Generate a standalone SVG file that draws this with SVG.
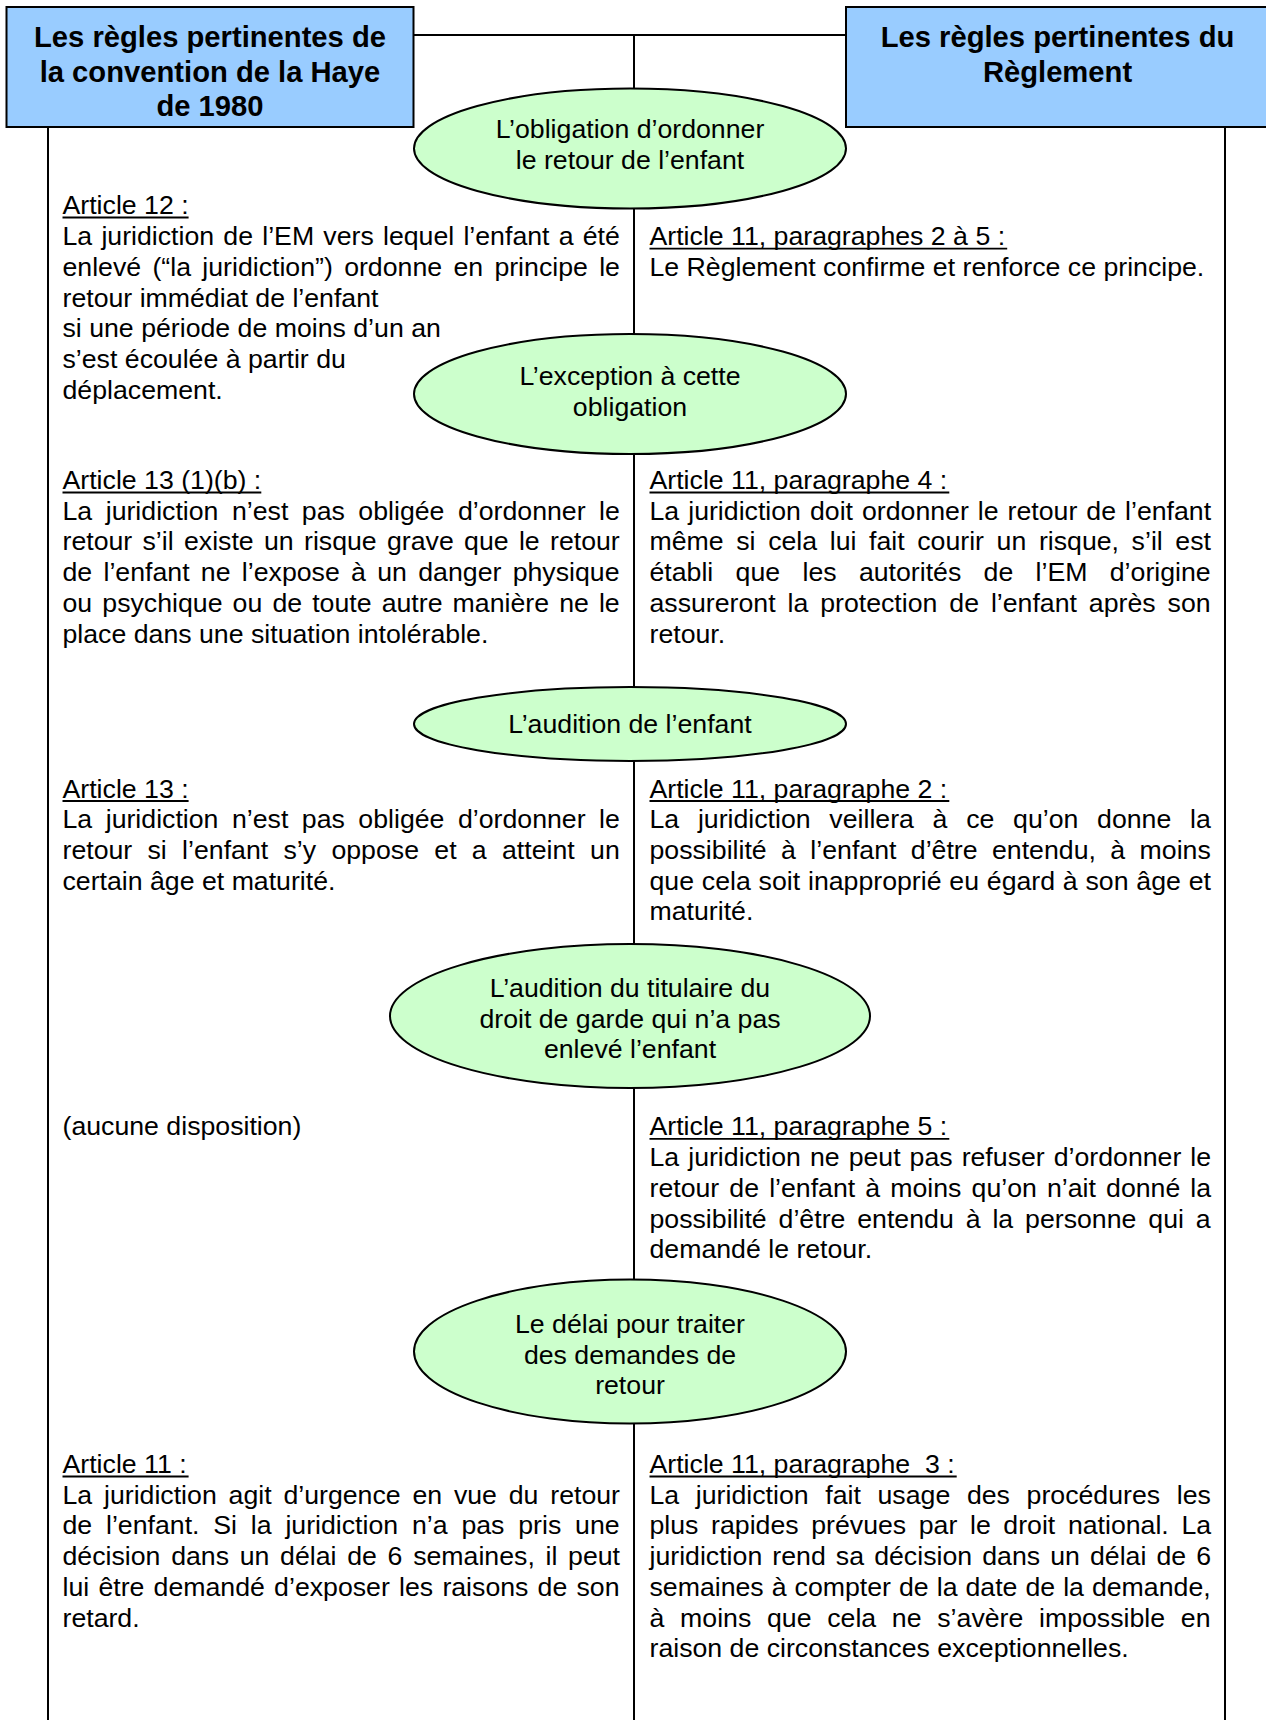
<svg xmlns="http://www.w3.org/2000/svg" width="1266" height="1720" viewBox="0 0 1266 1720">
<style>
.hdr{fill:#99CCFF;stroke:#000;stroke-width:2}
.ell{fill:#CCFFCC;stroke:#000;stroke-width:2}
.ln{stroke:#000;stroke-width:2;fill:none}
.ul{stroke:#000;stroke-width:1.8;fill:none}
.ht{font-family:"Liberation Sans",Arial,sans-serif;font-size:29.2px;font-weight:bold;fill:#000;text-anchor:middle}
.et{font-family:"Liberation Sans",Arial,sans-serif;font-size:26.7px;fill:#000;text-anchor:middle}
.bt{font-family:"Liberation Sans",Arial,sans-serif;font-size:26.7px;fill:#000}
</style>
<rect width="1266" height="1720" fill="#fff"/>
<g id="connectors">
<line class="ln" x1="413" y1="35" x2="846" y2="35"/>
<line class="ln" x1="634" y1="35" x2="634" y2="1720"/>
<line class="ln" x1="48" y1="127" x2="48" y2="1720"/>
<line class="ln" x1="1225" y1="127" x2="1225" y2="1720"/>
</g>
<g id="header-left">
<rect class="hdr" x="6.5" y="7" width="407" height="120"/>
<text class="ht" x="210" y="46.5">Les règles pertinentes de</text>
<text class="ht" x="210" y="81.5">la convention de la Haye</text>
<text class="ht" x="210" y="116">de 1980</text>
</g>
<g id="header-right">
<rect class="hdr" x="846" y="7" width="430" height="120"/>
<text class="ht" x="1057.5" y="46.5">Les règles pertinentes du</text>
<text class="ht" x="1057.5" y="81.5">Règlement</text>
</g>
<g id="node-obligation">
<ellipse class="ell" cx="630" cy="148.5" rx="216" ry="60"/>
<text class="et" x="630" y="138.2">L’obligation d’ordonner</text>
<text class="et" x="630" y="169">le retour de l’enfant</text>
</g>
<g id="node-exception">
<ellipse class="ell" cx="630" cy="394" rx="216" ry="60"/>
<text class="et" x="630" y="385">L’exception à cette</text>
<text class="et" x="630" y="415.7">obligation</text>
</g>
<g id="node-audition-enfant">
<ellipse class="ell" cx="630" cy="724" rx="216" ry="37"/>
<text class="et" x="630" y="732.8">L’audition de l’enfant</text>
</g>
<g id="node-audition-titulaire">
<ellipse class="ell" cx="630" cy="1016" rx="240" ry="72"/>
<text class="et" x="630" y="997">L’audition du titulaire du</text>
<text class="et" x="630" y="1027.7">droit de garde qui n’a pas</text>
<text class="et" x="630" y="1058.4">enlevé l’enfant</text>
</g>
<g id="node-delai">
<ellipse class="ell" cx="630" cy="1351.5" rx="216" ry="72"/>
<text class="et" x="630" y="1333">Le délai pour traiter</text>
<text class="et" x="630" y="1363.7">des demandes de</text>
<text class="et" x="630" y="1394.4">retour</text>
</g>
<g id="underlines">
<line class="ul" x1="62.5" y1="217.5" x2="188.6" y2="217.5"/>
<line class="ul" x1="649.5" y1="248.7" x2="1007.2" y2="248.7"/>
<line class="ul" x1="62.5" y1="492.5" x2="261.3" y2="492.5"/>
<line class="ul" x1="649.5" y1="492.5" x2="949.3" y2="492.5"/>
<line class="ul" x1="62.5" y1="801" x2="188.6" y2="801"/>
<line class="ul" x1="649.5" y1="801" x2="949.3" y2="801"/>
<line class="ul" x1="649.5" y1="1138.9" x2="949.3" y2="1138.9"/>
<line class="ul" x1="62.5" y1="1476.5" x2="188.6" y2="1476.5"/>
<line class="ul" x1="649.5" y1="1476.5" x2="956.7" y2="1476.5"/>
</g>
<g id="text-left-1">
<text class="bt" x="62.5" y="214">Article 12 :</text>
<text class="bt" x="62.5" y="245.2" word-spacing="1.8">La juridiction de l’EM vers lequel l’enfant a été</text>
<text class="bt" x="62.5" y="275.9" word-spacing="3.9">enlevé (“la juridiction”) ordonne en principe le</text>
<text class="bt" x="62.5" y="306.6">retour immédiat de l’enfant</text>
<text class="bt" x="62.5" y="337.3">si une période de moins d’un an</text>
<text class="bt" x="62.5" y="368">s’est écoulée à partir du</text>
<text class="bt" x="62.5" y="398.7">déplacement.</text>
</g>
<g id="text-right-1">
<text class="bt" x="649.5" y="245.2">Article 11, paragraphes 2 à 5 :</text>
<text class="bt" x="649.5" y="275.9">Le Règlement confirme et renforce ce principe.</text>
</g>
<g id="text-left-2">
<text class="bt" x="62.5" y="489">Article 13 (1)(b) :</text>
<text class="bt" x="62.5" y="519.7" word-spacing="6.1">La juridiction n’est pas obligée d’ordonner le</text>
<text class="bt" x="62.5" y="550.4" word-spacing="2.9">retour s’il existe un risque grave que le retour</text>
<text class="bt" x="62.5" y="581.1" word-spacing="3.9">de l’enfant ne l’expose à un danger physique</text>
<text class="bt" x="62.5" y="611.8" word-spacing="2.7">ou psychique ou de toute autre manière ne le</text>
<text class="bt" x="62.5" y="642.5">place dans une situation intolérable.</text>
</g>
<g id="text-right-2">
<text class="bt" x="649.5" y="489">Article 11, paragraphe 4 :</text>
<text class="bt" x="649.5" y="519.7" word-spacing="1.6">La juridiction doit ordonner le retour de l’enfant</text>
<text class="bt" x="649.5" y="550.4" word-spacing="5.2">même si cela lui fait courir un risque, s’il est</text>
<text class="bt" x="649.5" y="581.1" word-spacing="14.9">établi que les autorités de l’EM d’origine</text>
<text class="bt" x="649.5" y="611.8" word-spacing="4.5">assureront la protection de l’enfant après son</text>
<text class="bt" x="649.5" y="642.5">retour.</text>
</g>
<g id="text-left-3">
<text class="bt" x="62.5" y="797.5">Article 13 :</text>
<text class="bt" x="62.5" y="828.2" word-spacing="6.1">La juridiction n’est pas obligée d’ordonner le</text>
<text class="bt" x="62.5" y="858.9" word-spacing="7.9">retour si l’enfant s’y oppose et a atteint un</text>
<text class="bt" x="62.5" y="889.6">certain âge et maturité.</text>
</g>
<g id="text-right-3">
<text class="bt" x="649.5" y="797.5">Article 11, paragraphe 2 :</text>
<text class="bt" x="649.5" y="828.2" word-spacing="11.3">La juridiction veillera à ce qu’on donne la</text>
<text class="bt" x="649.5" y="858.9" word-spacing="7.0">possibilité à l’enfant d’être entendu, à moins</text>
<text class="bt" x="649.5" y="889.6" word-spacing="0.4">que cela soit inapproprié eu égard à son âge et</text>
<text class="bt" x="649.5" y="920.3">maturité.</text>
</g>
<g id="text-left-4">
<text class="bt" x="62.5" y="1135.4">(aucune disposition)</text>
</g>
<g id="text-right-4">
<text class="bt" x="649.5" y="1135.4">Article 11, paragraphe 5 :</text>
<text class="bt" x="649.5" y="1166.1" word-spacing="1.6">La juridiction ne peut pas refuser d’ordonner le</text>
<text class="bt" x="649.5" y="1196.8" word-spacing="2.7">retour de l’enfant à moins qu’on n’ait donné la</text>
<text class="bt" x="649.5" y="1227.5" word-spacing="4.5">possibilité d’être entendu à la personne qui a</text>
<text class="bt" x="649.5" y="1258.2">demandé le retour.</text>
</g>
<g id="text-left-5">
<text class="bt" x="62.5" y="1473">Article 11 :</text>
<text class="bt" x="62.5" y="1503.7" word-spacing="4.4">La juridiction agit d’urgence en vue du retour</text>
<text class="bt" x="62.5" y="1534.4" word-spacing="6.4">de l’enfant. Si la juridiction n’a pas pris une</text>
<text class="bt" x="62.5" y="1565.1" word-spacing="3.3">décision dans un délai de 6 semaines, il peut</text>
<text class="bt" x="62.5" y="1595.8" word-spacing="1.8">lui être demandé d’exposer les raisons de son</text>
<text class="bt" x="62.5" y="1626.5">retard.</text>
</g>
<g id="text-right-5">
<text class="bt" x="649.5" y="1473" xml:space="preserve">Article 11, paragraphe  3 :</text>
<text class="bt" x="649.5" y="1503.7" word-spacing="9.25">La juridiction fait usage des procédures les</text>
<text class="bt" x="649.5" y="1534.4" word-spacing="5.2">plus rapides prévues par le droit national. La</text>
<text class="bt" x="649.5" y="1565.1" word-spacing="2.7">juridiction rend sa décision dans un délai de 6</text>
<text class="bt" x="649.5" y="1595.8" word-spacing="0.6">semaines à compter de la date de la demande,</text>
<text class="bt" x="649.5" y="1626.5" word-spacing="8.3">à moins que cela ne s’avère impossible en</text>
<text class="bt" x="649.5" y="1657.2">raison de circonstances exceptionnelles.</text>
</g>
</svg>
